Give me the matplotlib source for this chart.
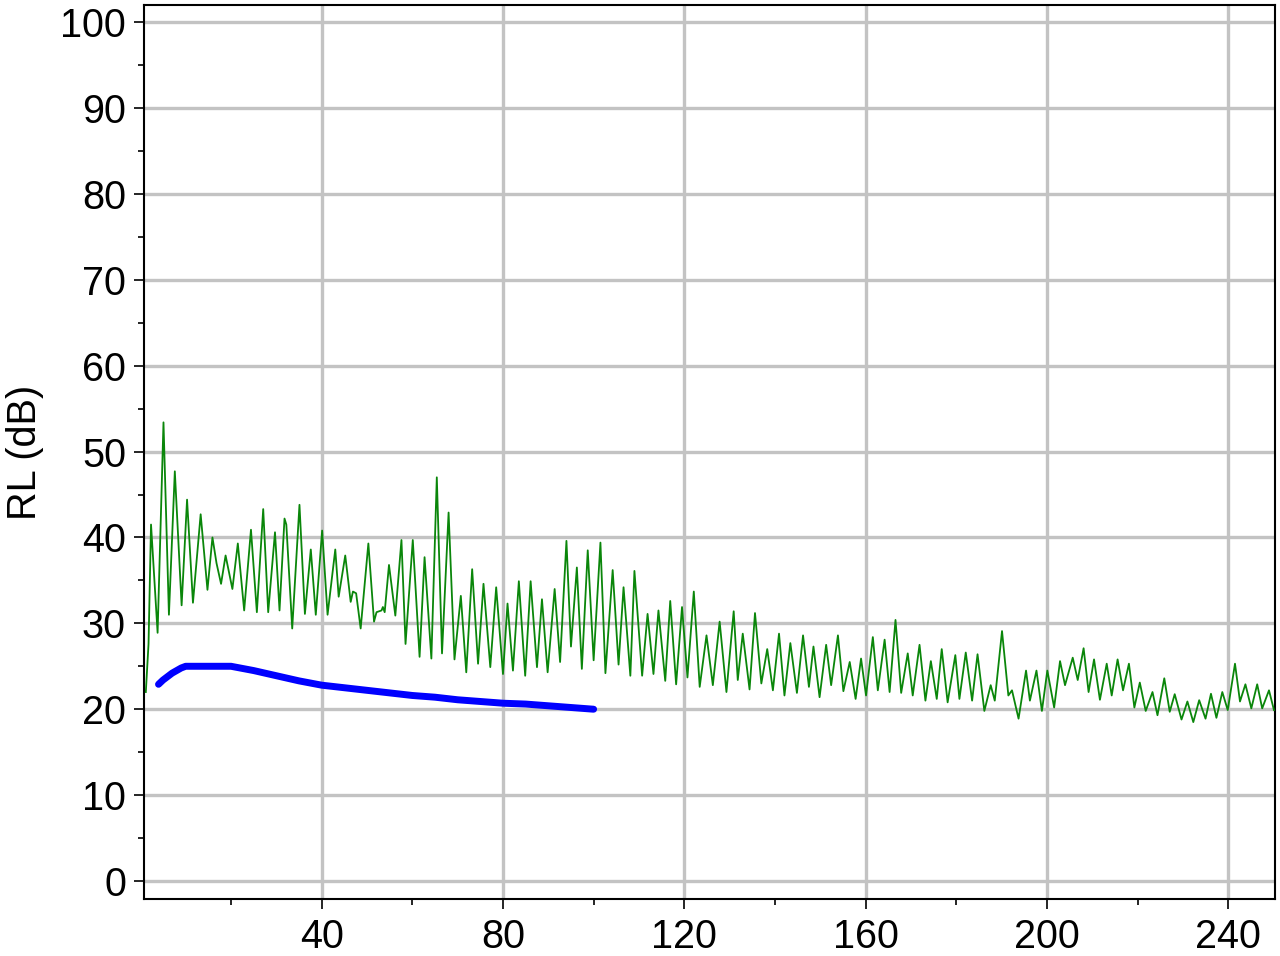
import matplotlib
matplotlib.use("Agg")
import matplotlib.pyplot as plt
from matplotlib.ticker import MultipleLocator

plt.rcParams["font.family"] = ["Liberation Sans", "DejaVu Sans"]

# green trace: peaks / troughs
green_x = [1.2, 1.8, 2.35, 3.8, 5.1, 6.3, 7.6, 9.1, 10.3, 11.6, 13.3, 14.8, 15.9, 16.8,
           17.8, 18.8, 20.3, 21.5, 22.9, 24.4, 25.7, 27.1, 28.2, 29.7, 30.7, 31.8, 32.2,
           33.5, 35.1, 36.3, 37.6, 38.7, 40.1, 41.3, 43.0, 43.75, 45.2, 46.4, 46.9, 47.6,
           48.6, 50.3, 51.55, 52.1, 53.2, 53.5, 53.9, 54.85, 56.25, 57.6, 58.5, 60.1,
           61.6, 62.7, 64.2, 65.4, 66.55, 68.0, 69.3, 70.7, 71.9, 73.2, 74.5, 75.7, 77.2,
           78.5, 80.0, 81.0, 82.2, 83.5, 84.9, 86.1, 87.5, 88.6, 89.85, 91.4, 92.6, 94.0,
           95.0, 96.3, 97.4, 98.7, 100.0, 101.5, 102.6, 104.2, 105.5, 106.6, 108.1, 109.0,
           110.7, 111.9, 113.2, 114.3, 115.8, 116.9, 118.2, 119.5, 120.7, 122.1, 123.4,
           124.9, 126.3, 127.8, 129.3, 130.9, 131.8, 132.9, 134.4, 135.6, 137.0, 138.3,
           139.55, 140.9, 142.1, 143.4, 144.85, 146.2, 147.5, 148.5, 149.85, 151.3, 152.4,
           153.9, 155.1, 156.5, 157.8, 159.0, 160.1, 161.6, 162.7, 164.2, 165.3, 166.6,
           167.85, 169.3, 170.4, 171.9, 173.2, 174.4, 175.7, 176.8, 178.1, 179.8, 180.7,
           182.1, 183.5, 184.7, 186.2, 187.6, 188.5, 190.1, 191.5, 192.3, 193.75, 195.4,
           196.25, 197.7, 198.9, 200.1, 201.6, 202.9, 204.0, 205.7, 206.8, 208.1, 209.2,
           210.4, 211.7, 213.2, 214.3, 215.6, 216.8, 218.1, 219.3, 220.5, 221.8, 223.3,
           224.4, 225.9, 227.1, 228.2, 229.7, 231.0, 232.3, 233.6, 235.0, 236.2, 237.4,
           238.7, 239.9, 241.5, 242.6, 243.8, 245.1, 246.4, 247.5, 249.0, 250.1]
green_y = [22.0, 27.6, 41.5, 28.9, 53.4, 31.0, 47.7, 32.1, 44.4, 32.4, 42.7, 33.9, 40.0, 37.0,
           34.6, 37.9, 34.0, 39.3, 31.5, 40.9, 31.3, 43.3, 31.3, 40.6, 31.5, 42.2, 41.5,
           29.4, 43.8, 31.1, 38.6, 31.0, 40.8, 31.0, 38.6, 33.1, 37.9, 32.5, 33.7, 33.5,
           29.4, 39.3, 30.2, 31.3, 31.5, 31.9, 31.3, 36.8, 30.9, 39.7, 27.6, 39.7,
           26.1, 37.7, 25.9, 47.0, 26.5, 42.9, 25.8, 33.2, 24.3, 36.3, 25.3, 34.6, 24.9,
           34.2, 24.1, 32.3, 24.5, 34.9, 23.9, 34.9, 24.9, 32.8, 24.3, 34.0, 25.5, 39.6,
           27.3, 36.5, 24.7, 38.5, 25.7, 39.4, 24.2, 36.2, 25.2, 34.2, 23.9, 36.1,
           23.9, 31.1, 24.1, 31.5, 23.3, 32.6, 22.9, 31.9, 23.7, 33.7, 22.6,
           28.6, 22.8, 30.2, 22.0, 31.4, 23.4, 28.8, 22.3, 31.2, 23.0, 27.0,
           22.2, 28.8, 21.6, 27.7, 21.9, 28.6, 22.6, 27.3, 21.4, 27.5, 22.8,
           28.6, 22.1, 25.5, 21.2, 25.9, 21.6, 28.4, 22.2, 28.1, 22.0, 30.4,
           21.9, 26.5, 21.6, 27.5, 21.0, 25.6, 21.2, 27.0, 20.8, 26.3, 21.2,
           26.6, 21.0, 26.4, 19.8, 22.8, 21.0, 29.1, 21.6, 22.2, 18.9, 24.5,
           21.0, 24.5, 19.8, 24.5, 20.2, 25.6, 22.8, 26.0, 23.4, 27.1, 22.0,
           25.8, 21.1, 25.3, 21.6, 25.8, 22.2, 25.3, 20.2, 23.1, 19.8, 22.0,
           19.3, 23.6, 19.7, 21.75, 18.8, 20.9, 18.5, 21.05, 18.9, 21.8, 19.0,
           22.0, 19.9, 25.3, 20.9, 22.9, 20.1, 22.9, 20.1, 22.2, 19.9]

# blue trace
blue_x = [4, 5, 6, 7, 8, 9, 10, 15, 20, 25, 30, 35, 40, 45, 50, 55, 60, 65, 70, 75,
          80, 85, 90, 95, 100]
blue_y = [22.9, 23.4, 23.8, 24.2, 24.5, 24.8, 25.0, 25.0, 25.0, 24.5, 23.9, 23.3, 22.8,
          22.5, 22.2, 21.9, 21.6, 21.4, 21.1, 20.9, 20.7, 20.6, 20.4, 20.2, 20.0]

x_ticks = [40, 80, 120, 160, 200, 240]
y_ticks = [0, 10, 20, 30, 40, 50, 60, 70, 80, 90, 100]

fig = plt.figure(figsize=(12.8, 9.56), dpi=100)
ax = fig.add_axes([0.1125, 0.0596, 0.8835, 0.9352])

ax.plot(green_x, green_y, color="#0a860a", linewidth=1.3, zorder=3)
ax.plot(blue_x, blue_y, color="#0000ff", linewidth=5, solid_capstyle="round", zorder=4)

ax.set_xlim(0.8, 250.3)
ax.set_ylim(-2.1, 102)
ax.set_xticks(x_ticks)
ax.set_yticks(y_ticks)
ax.xaxis.set_minor_locator(MultipleLocator(20))
ax.yaxis.set_minor_locator(MultipleLocator(5))
ax.grid(True, which="major", color="#c3c3c3", linewidth=2.4, zorder=1)
ax.set_axisbelow(True)

ax.tick_params(which="major", direction="out", length=7, width=1.2, labelsize=28.5, pad=6)
ax.tick_params(axis="x", which="major", pad=6.5)
ax.tick_params(which="minor", direction="out", length=4, width=1.2)
for s in ax.spines.values():
    s.set_linewidth(1.5)

ax.set_ylabel("RL (dB)", fontsize=28.5, labelpad=12)

fig.savefig("out.png", dpi=100)
